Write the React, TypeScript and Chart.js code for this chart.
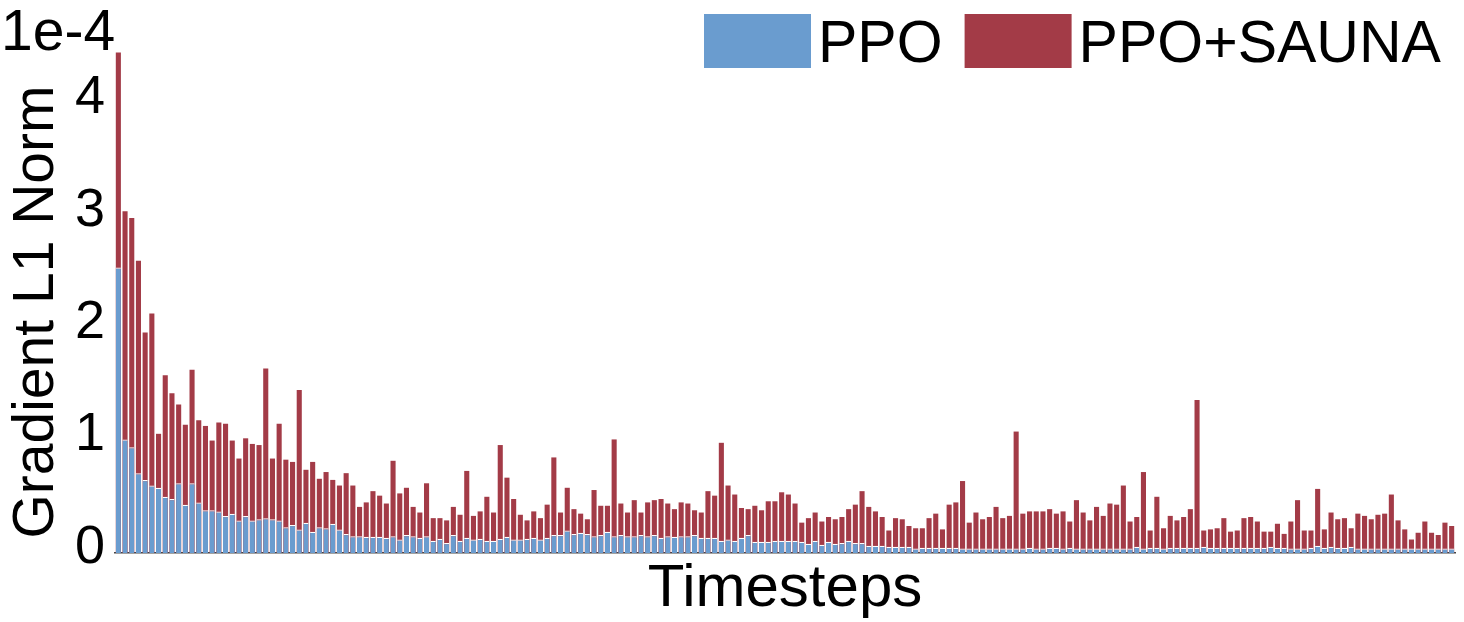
import React, { useEffect, useRef } from "react";
import { Chart, registerables } from "chart.js";

Chart.register(...registerables);

// values in units of 1e-4
const ppoValues: number[] = [
  2.54, 1.01, 0.94, 0.71, 0.65, 0.60, 0.58, 0.50, 0.48, 0.62, 0.43, 0.62, 0.45, 0.38, 0.38, 0.37,
  0.33, 0.35, 0.29, 0.33, 0.29, 0.30, 0.31, 0.30, 0.29, 0.23, 0.25, 0.21, 0.27, 0.19, 0.23, 0.22,
  0.26, 0.21, 0.17, 0.15, 0.15, 0.145, 0.145, 0.145, 0.136, 0.15, 0.12, 0.16, 0.15, 0.136, 0.15, 0.11,
  0.127, 0.09, 0.16, 0.11, 0.136, 0.12, 0.127, 0.11, 0.11, 0.127, 0.145, 0.12, 0.12, 0.127, 0.136, 0.12,
  0.136, 0.16, 0.16,
  0.20, 0.17, 0.18, 0.17, 0.15, 0.16, 0.19, 0.15, 0.16, 0.15, 0.15, 0.16, 0.15, 0.16, 0.136, 0.15,
  0.145, 0.15, 0.15, 0.16, 0.136, 0.136, 0.136, 0.11, 0.12, 0.11, 0.136, 0.16, 0.10, 0.10, 0.10, 0.11,
  0.11, 0.11,
  0.11, 0.10, 0.083, 0.11, 0.074, 0.10, 0.083, 0.09, 0.11, 0.09, 0.09, 0.065, 0.065, 0.065, 0.056, 0.056,
  0.056, 0.056, 0.04, 0.047, 0.047, 0.047, 0.047, 0.047, 0.047, 0.04, 0.04, 0.04, 0.04, 0.04, 0.04, 0.04,
  0.04, 0.04,
  0.04, 0.047, 0.04, 0.04, 0.047, 0.047, 0.04, 0.047, 0.04, 0.04, 0.04, 0.04, 0.04, 0.04, 0.04, 0.04,
  0.04, 0.056, 0.04, 0.047, 0.047, 0.04, 0.047, 0.047, 0.047, 0.047, 0.047, 0.056, 0.047, 0.047, 0.047, 0.047,
  0.047, 0.047, 0.047,
  0.047, 0.047, 0.056, 0.047, 0.047, 0.04, 0.04, 0.04, 0.047, 0.065, 0.047, 0.056, 0.047, 0.047, 0.056, 0.04,
  0.04, 0.04, 0.04, 0.04, 0.04, 0.04, 0.04, 0.04, 0.04, 0.04, 0.04, 0.04, 0.04, 0.04,
];

const saunaValues: number[] = [
  4.45, 3.04, 2.98, 2.60, 1.96, 2.13, 1.06, 1.58, 1.42, 1.32, 1.14, 1.63, 1.18, 1.13, 1.00, 1.16,
  1.15, 1.00, 0.84, 1.02, 0.97, 0.96, 1.64, 0.84, 1.15, 0.83, 0.81, 1.45, 0.74, 0.81, 0.66, 0.72,
  0.65, 0.60, 0.71, 0.60, 0.41, 0.45, 0.55, 0.51, 0.44, 0.82, 0.53, 0.58, 0.41, 0.36, 0.62, 0.31,
  0.31, 0.29, 0.41, 0.34, 0.73, 0.33, 0.37, 0.50, 0.36, 0.96, 0.67, 0.48, 0.34, 0.29, 0.37, 0.31,
  0.43, 0.85, 0.36,
  0.58, 0.39, 0.35, 0.30, 0.56, 0.42, 0.42, 1.01, 0.44, 0.36, 0.47, 0.36, 0.45, 0.47, 0.48, 0.44,
  0.39, 0.45, 0.44, 0.38, 0.36, 0.55, 0.51, 0.98, 0.60, 0.52, 0.40, 0.39, 0.42, 0.38, 0.46, 0.46,
  0.54, 0.52,
  0.44, 0.27, 0.31, 0.36, 0.28, 0.32, 0.30, 0.32, 0.39, 0.43, 0.55, 0.41, 0.37, 0.32, 0.20, 0.31,
  0.30, 0.24, 0.22, 0.22, 0.31, 0.35, 0.21, 0.43, 0.45, 0.64, 0.27, 0.36, 0.30, 0.32, 0.41, 0.31,
  0.33, 1.08,
  0.35, 0.37, 0.37, 0.37, 0.39, 0.35, 0.37, 0.28, 0.47, 0.36, 0.29, 0.41, 0.33, 0.44, 0.43, 0.60,
  0.28, 0.32, 0.72, 0.20, 0.50, 0.22, 0.33, 0.29, 0.32, 0.39, 1.36, 0.20, 0.21, 0.22, 0.31, 0.19,
  0.20, 0.31, 0.32,
  0.28, 0.19, 0.19, 0.26, 0.17, 0.28, 0.47, 0.20, 0.20, 0.57, 0.21, 0.36, 0.30, 0.31, 0.22, 0.35,
  0.33, 0.30, 0.34, 0.35, 0.52, 0.29, 0.21, 0.12, 0.18, 0.28, 0.18, 0.16, 0.27, 0.24,
];

const timesteps: string[] = ppoValues.map((_, i) => String(i + 1));
const yTickValues: number[] = [0, 1, 2, 3, 4];
const seriesLabels: string[] = ["PPO", "PPO+SAUNA"];
const seriesColors: string[] = ["#6A9CCF", "#A33B47"];
const yAxisTitle = "Gradient L1 Norm";
const xAxisTitle = "Timesteps";
const scaleNote = "1e-4";

const FONT = "'Liberation Sans', Arial, Helvetica, sans-serif";

const overlayPlugin = {
  id: "overlayTexts",
  afterDraw(chart: any) {
    const ctx = chart.ctx as CanvasRenderingContext2D;
    ctx.save();
    ctx.fillStyle = "#000";
    // scale multiplier
    ctx.font = `57px ${FONT}`;
    ctx.textAlign = "left";
    ctx.textBaseline = "alphabetic";
    ctx.fillText(scaleNote, 1, 50);
    // y axis title
    ctx.save();
    ctx.translate(53, 312);
    ctx.rotate(-Math.PI / 2);
    ctx.font = `57px ${FONT}`;
    ctx.textAlign = "center";
    ctx.fillText(yAxisTitle, 0, 0);
    ctx.restore();
    // legend
    const ds = chart.data.datasets;
    let x = 704;
    ctx.font = `59px ${FONT}`;
    ctx.textAlign = "left";
    for (let i = 0; i < ds.length; i++) {
      ctx.fillStyle = ds[i].backgroundColor;
      ctx.fillRect(x, 14, 107, 54);
      ctx.fillStyle = "#000";
      const tx = x + 107 + 7;
      ctx.fillText(ds[i].label, tx, 62);
      x = tx + ctx.measureText(ds[i].label).width + 22;
    }
    ctx.restore();
  },
};

export default function App() {
  const canvasRef = useRef<HTMLCanvasElement | null>(null);

  useEffect(() => {
    if (!canvasRef.current) return;
    const chart = new Chart(canvasRef.current, {
      type: "bar",
      data: {
        labels: timesteps,
        datasets: [
          {
            label: seriesLabels[0],
            data: ppoValues,
            backgroundColor: seriesColors[0],
            borderColor: "#ffffff",
            borderWidth: { top: 1.3, left: 0, right: 0, bottom: 0 },
            borderSkipped: false,
            barPercentage: 0.76,
            categoryPercentage: 1.0,
          },
          {
            label: seriesLabels[1],
            data: saunaValues,
            backgroundColor: seriesColors[1],
            borderWidth: 0,
            barPercentage: 0.76,
            categoryPercentage: 1.0,
          },
        ],
      },
      options: {
        responsive: false,
        animation: false,
        devicePixelRatio: 1,
        layout: { padding: { top: 47, right: 9, left: 0, bottom: 0 } },
        plugins: {
          legend: { display: false },
          tooltip: { enabled: false },
          title: { display: false },
        },
        scales: {
          x: {
            stacked: true,
            grid: { display: false },
            ticks: { display: false },
            border: { display: true, color: "#444444", width: 1.5 },
            title: {
              display: true,
              text: xAxisTitle,
              color: "#000",
              font: { family: FONT, size: 60, lineHeight: 1 },
              padding: { top: 0, bottom: 3 },
            },
            afterFit: (s: any) => {
              s.height = 69;
            },
          },
          y: {
            stacked: false,
            min: 0,
            max: 4.5,
            grid: { display: false, drawTicks: false },
            border: { display: false },
            afterBuildTicks: (s: any) => {
              s.ticks = yTickValues.map((v) => ({ value: v }));
            },
            ticks: {
              color: "#000",
              padding: 10,
              labelOffset: -5,
              font: { family: FONT, size: 54 },
              callback: (v: any) => String(v),
            },
            afterFit: (s: any) => {
              s.width = 115;
            },
          },
        },
      },
      plugins: [overlayPlugin],
    });
    return () => chart.destroy();
  }, []);

  return (
    <div style={{ position: "absolute", left: 0, top: 0, width: 1464, height: 622, background: "#fff" }}>
      <canvas ref={canvasRef} width={1464} height={622} style={{ display: "block" }} />
    </div>
  );
}
